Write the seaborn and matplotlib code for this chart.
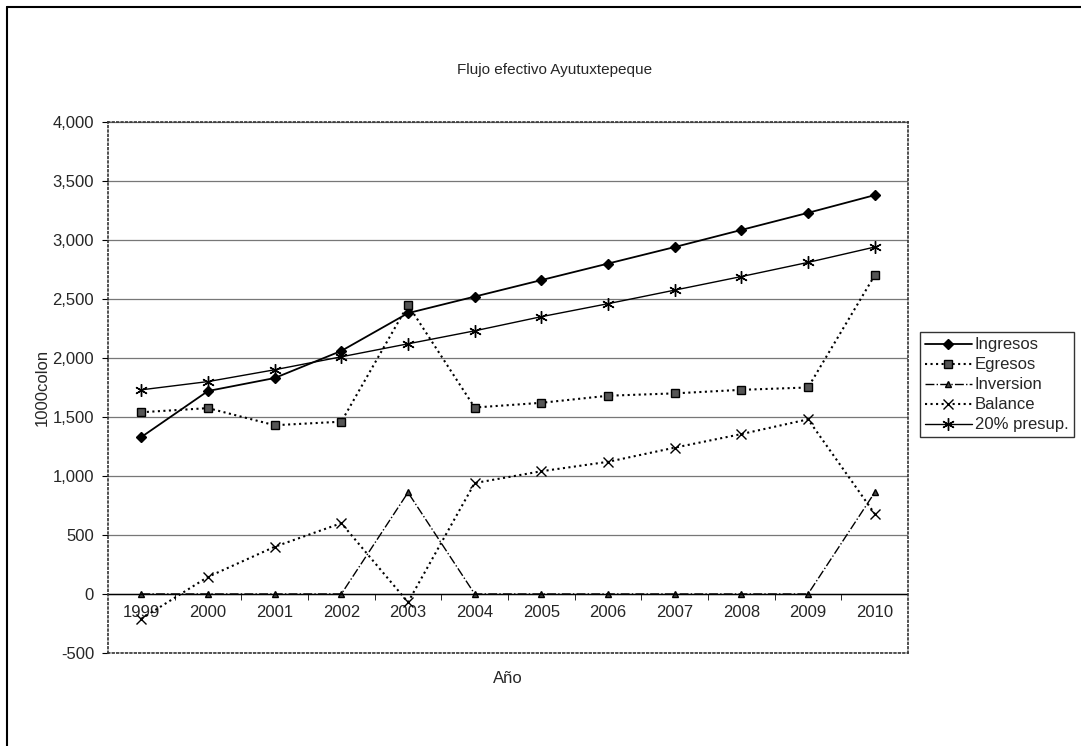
import pandas as pd
import matplotlib.pyplot as plt
import seaborn as sns
from matplotlib.lines import Line2D
from matplotlib.ticker import FuncFormatter, MultipleLocator

sns.set_style('white')
plt.rcParams['font.family'] = ['Liberation Sans', 'DejaVu Sans']

years = [1999, 2000, 2001, 2002, 2003, 2004, 2005, 2006, 2007, 2008, 2009, 2010]
ingresos = [1330, 1720, 1830, 2060, 2380, 2520, 2660, 2800, 2940, 3085, 3230, 3380]
egresos = [1540, 1575, 1430, 1460, 2450, 1580, 1620, 1680, 1700, 1730, 1750, 2700]
inversion = [0, 0, 0, 0, 860, 0, 0, 0, 0, 0, 0, 860]
balance = [-210, 145, 400, 600, -70, 940, 1040, 1120, 1240, 1355, 1480, 680]
presup = [1730, 1800, 1900, 2010, 2120, 2230, 2350, 2460, 2575, 2690, 2810, 2940]

series = ['Ingresos', 'Egresos', 'Inversion', 'Balance', '20% presup.']
df = pd.DataFrame({'Año': years, 'Ingresos': ingresos, 'Egresos': egresos,
                   'Inversion': inversion, 'Balance': balance, '20% presup.': presup})

styles = {
    'Ingresos': dict(ls='-', marker='D', ms=5, mfc='black', lw=1.3),
    'Egresos': dict(ls=':', marker='s', ms=5.5, mfc='#555555', lw=1.5),
    'Inversion': dict(ls='-.', marker='^', ms=5, mfc='#444444', lw=1.0),
    'Balance': dict(ls=':', marker='x', ms=7, mfc='black', lw=1.5),
    '20% presup.': dict(ls='-', marker=(6, 2, 0), ms=9, mfc='black', lw=1.0),
}

fig = plt.figure(figsize=(10.81, 7.46), dpi=100)
ax = fig.add_axes([0.0999, 0.1247, 0.7401, 0.7118])

for name in series:
    st = styles[name]
    sns.lineplot(data=df, x='Año', y=name, ax=ax, color='black', linestyle=st['ls'],
                 linewidth=st['lw'], marker=st['marker'], markersize=st['ms'],
                 markerfacecolor=st['mfc'], markeredgecolor='black', markeredgewidth=1.0,
                 label=name)

ax.set_xlim(1998.5, 2010.5)
ax.set_ylim(-500, 4000)
ax.yaxis.set_major_locator(MultipleLocator(500))
ax.yaxis.set_major_formatter(FuncFormatter(lambda v, p: f'{int(v):,}'))
ax.grid(axis='y', color='#777777', lw=0.9)
ax.axhline(0, color='black', lw=1.0)
ax.set_xticks([])
ax.tick_params(axis='y', labelsize=12, left=True, length=4, width=0.8, color='black', pad=6)

for sp in ax.spines.values():
    sp.set_linestyle(':')
    sp.set_color('#333333')
    sp.set_linewidth(1.2)

sec = ax.secondary_xaxis(500 / 4500)
sec.set_xticks(years)
sec.set_xticklabels([str(y) for y in years], fontsize=12)
sec.set_xticks([y + 0.5 for y in years[:-1]], minor=True)
sec.tick_params(axis='x', which='major', length=0, pad=8)
sec.tick_params(axis='x', which='minor', length=4, color='black', direction='out')
sec.spines['bottom'].set_visible(False)

ax.set_xlabel('Año', fontsize=12, labelpad=13)
ax.set_ylabel('1000colon', fontsize=12, labelpad=2)
fig.text(0.513, 0.906, 'Flujo efectivo Ayutuxtepeque', fontsize=11, ha='center', va='center')

leg = ax.legend(loc='center left', bbox_to_anchor=(0.851, 0.484), bbox_transform=fig.transFigure,
                frameon=True, fancybox=False, fontsize=12, handlelength=2.8,
                borderpad=0.3, labelspacing=0.3, handletextpad=0.2, borderaxespad=0)
leg.get_frame().set_edgecolor('black')
leg.get_frame().set_linewidth(1.0)

fig.add_artist(Line2D([0.0065, 0.0065], [0.0, 0.9906], color='black', lw=1.5))
fig.add_artist(Line2D([0.0065, 1.0], [0.9906, 0.9906], color='black', lw=1.5))

plt.savefig('out.png', dpi=100)
